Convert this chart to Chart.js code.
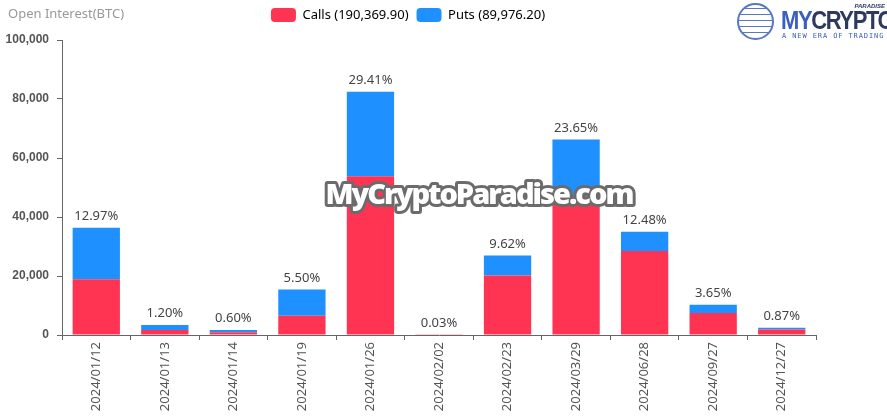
<!DOCTYPE html>
<html>
<head>
<meta charset="utf-8">
<script src="https://cdn.jsdelivr.net/npm/chart.js@4"></script>
<style>
  html, body { margin: 0; padding: 0; background: #fff; }
  #wrap { position: relative; width: 887px; height: 420px; overflow: hidden; }
  #title { position: absolute; left: 8px; top: 4px; font: 13px "Noto Sans", sans-serif; color: #999; }
  #logo { position: absolute; left: 737px; top: 3px; width: 150px; height: 40px; }
  #logo .globe { position: absolute; left: 0; top: 0px; width: 37px; height: 37px; border: 2px solid #3a62b8; border-radius: 50%; box-sizing: border-box;
    background: repeating-linear-gradient(0deg, #fff 0 5px, #3a62b8 5px 6px), #fff; opacity: 0.85; }
  #logo .name { position: absolute; left: 44px; top: 3px; font: 900 22px "Liberation Sans", Arial, sans-serif; letter-spacing: -1.4px; color: #2d3a5e; transform: scaleY(1.15); transform-origin: left top; }
  #logo .name span { color: #3a5fbf; }
  #logo .par { position: absolute; right: 2px; top: 0px; font: italic 700 6px "Liberation Sans", sans-serif; color: #2d3a5e; }
  #logo .tag { position: absolute; left: 45px; top: 29px; font: 7px "DejaVu Sans Mono", monospace; letter-spacing: 0.9px; color: #3a5fbf; white-space: nowrap; }
</style>
</head>
<body>
<div id="wrap">
  <canvas id="oi-chart" width="887" height="420"></canvas>
  <div id="title">Open Interest(BTC)</div>
  <div id="logo">
    <div class="globe"></div>
    <div class="par">PARADISE</div>
    <div class="name"><span>MY</span>CRYPTO</div>
    <div class="tag">A NEW ERA OF TRADING</div>
  </div>
</div>
<script>
// Expiry dates and open interest (BTC)
const expiries = ['2024/01/12', '2024/01/13', '2024/01/14', '2024/01/19', '2024/01/26', '2024/02/02',
                  '2024/02/23', '2024/03/29', '2024/06/28', '2024/09/27', '2024/12/27'];
const calls = [18900, 1700, 900, 6500, 53800, 60, 20200, 47000, 28500, 7500, 1900];
const puts = [17460, 1660, 780, 8900, 28650, 24, 6770, 19300, 6490, 2730, 540];
const shareLabels = ['12.97%', '1.20%', '0.60%', '5.50%', '29.41%', '0.03%', '9.62%', '23.65%', '12.48%', '3.65%', '0.87%'];
const legendNames = ['Calls (190,369.90)', 'Puts (89,976.20)'];
const yTicks = [0, 20000, 40000, 60000, 80000, 100000];

const RED = '#ff3452';
const BLUE = '#1e90ff';

// extra room under the legend so the plot starts lower
const legendSpacer = {
    id: 'legendSpacer',
    beforeLayout(chart) {
        const legend = chart.legend;
        if (!legend || legend._spaced) return;
        const fit = legend.fit;
        legend.fit = function() {
            fit.call(this);
            this.height += 8;
        };
        legend._spaced = true;
    }
};

// share of total above each stacked bar
const shareLabelPlugin = {
    id: 'shareLabels',
    afterDatasetsDraw(chart) {
        const { ctx, scales } = chart;
        ctx.save();
        ctx.font = '13px "Noto Sans", sans-serif';
        ctx.fillStyle = '#444';
        ctx.textAlign = 'center';
        ctx.textBaseline = 'bottom';
        expiries.forEach((d, i) => {
            const x = scales.x.getPixelForValue(i);
            const y = scales.y.getPixelForValue(calls[i] + puts[i]);
            ctx.fillText(shareLabels[i], x, y - 5);
        });
        ctx.restore();
    }
};

// site watermark across the middle
const watermarkPlugin = {
    id: 'watermark',
    afterDraw(chart) {
        const ctx = chart.ctx;
        ctx.save();
        ctx.font = '800 29px "Open Sans", sans-serif';
        ctx.letterSpacing = '-2px';
        ctx.textAlign = 'center';
        ctx.textBaseline = 'middle';
        ctx.lineJoin = 'round';
        ctx.lineWidth = 6;
        ctx.strokeStyle = '#6b6b6b';
        ctx.strokeText('MyCryptoParadise.com', 479, 196);
        ctx.fillStyle = '#fff';
        ctx.fillText('MyCryptoParadise.com', 479, 196);
        ctx.restore();
    }
};

new Chart(document.getElementById('oi-chart'), {
    type: 'bar',
    data: {
        labels: expiries,
        datasets: [
            { label: legendNames[0], data: calls, backgroundColor: RED, stack: 'oi' },
            { label: legendNames[1], data: puts, backgroundColor: BLUE, stack: 'oi' }
        ]
    },
    options: {
        responsive: false,
        animation: false,
        layout: { padding: { left: 0, right: 71, top: 0, bottom: 0 } },
        datasets: { bar: { barPercentage: 0.69, categoryPercentage: 1 } },
        plugins: {
            legend: {
                position: 'top',
                labels: {
                    boxWidth: 25,
                    boxHeight: 14,
                    padding: 8,
                    color: '#333',
                    font: { family: '"Noto Sans", sans-serif', size: 13 },
                    generateLabels(chart) {
                        return chart.data.datasets.map((ds, i) => ({
                            text: ds.label,
                            fillStyle: ds.backgroundColor,
                            strokeStyle: ds.backgroundColor,
                            lineWidth: 0,
                            borderRadius: 4,
                            datasetIndex: i
                        }));
                    }
                }
            },
            tooltip: { mode: 'index', intersect: false }
        },
        scales: {
            x: {
                stacked: true,
                afterFit(scale) { scale.height = 85; },
                border: { color: '#666' },
                grid: { display: true, drawOnChartArea: false, drawTicks: true, tickLength: 5, color: '#666', offset: true },
                ticks: {
                    minRotation: 90, maxRotation: 90, padding: 2, autoSkip: false,
                    color: '#555',
                    font: { family: '"Noto Sans", sans-serif', size: 13 }
                }
            },
            y: {
                stacked: true,
                min: 0,
                max: 100000,
                afterFit(scale) { scale.width = 62; },
                afterBuildTicks(scale) { scale.ticks = yTicks.map(v => ({ value: v })); },
                border: { color: '#666' },
                grid: { display: true, drawOnChartArea: false, drawTicks: true, tickLength: 5, color: '#666' },
                ticks: {
                    padding: 8,
                    color: '#555',
                    font: { family: '"Liberation Sans", Arial, sans-serif', size: 12, weight: 'bold' },
                    callback: v => v.toLocaleString('en-US')
                }
            }
        }
    },
    plugins: [legendSpacer, shareLabelPlugin, watermarkPlugin]
});
</script>
</body>
</html>
